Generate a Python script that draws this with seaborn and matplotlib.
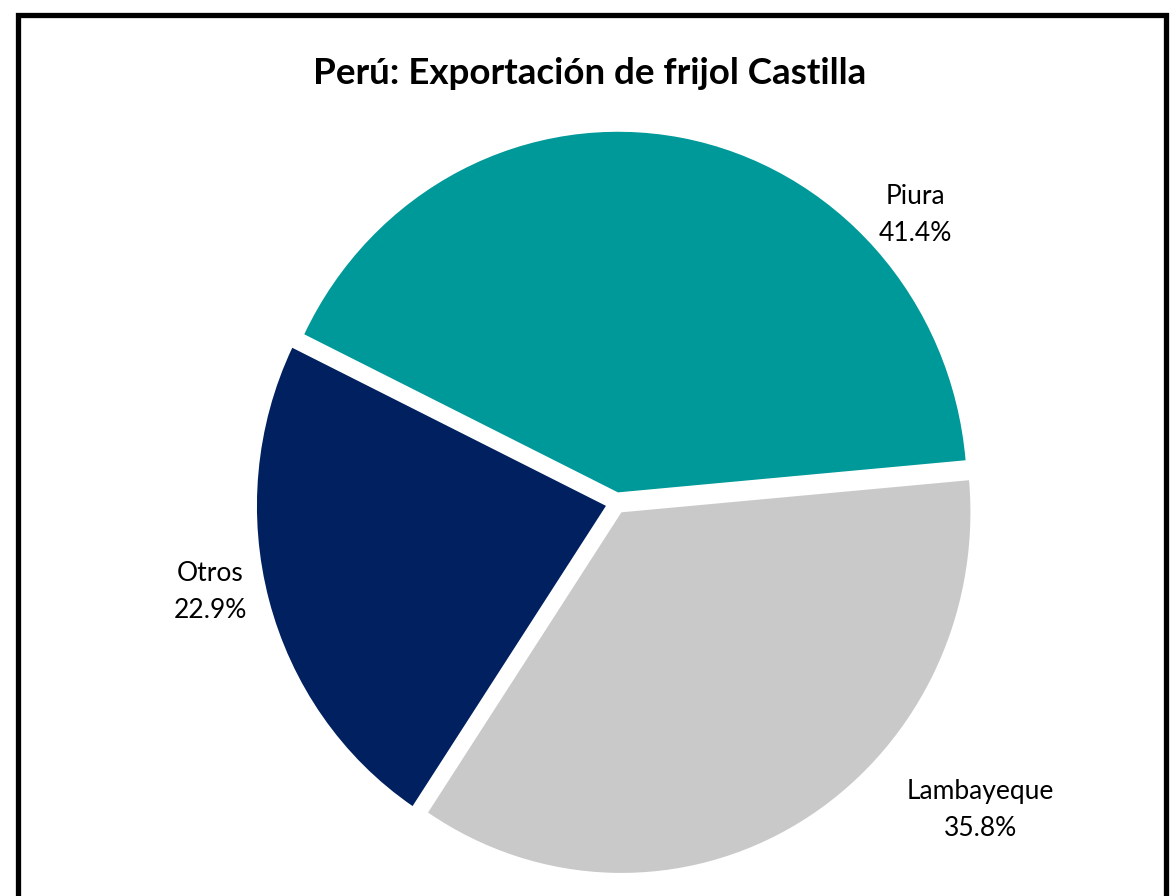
import matplotlib
matplotlib.use("Agg")
import matplotlib.pyplot as plt
from matplotlib.lines import Line2D
import seaborn as sns

# data
regiones = ["Piura", "Lambayeque", "Otros"]
participacion = [41.4, 35.8, 22.9]
colores = ["#009999", "#C9C9C9", "#00205F"]

# where the category labels sit (data units, pie radius = 1)
label_pos = [(0.857, 0.80), (1.043, -0.851), (-1.163, -0.247)]

sns.set_theme(style="white")
plt.rcParams["font.family"] = ["Lato", "DejaVu Sans"]

fig = plt.figure(figsize=(11.73, 8.96), dpi=100)
fig.patch.set_facecolor("white")

# the original pie is slightly taller than wide, so the axes box is not square
ax = fig.add_axes([0.1384, -0.0846, 0.7736, 1.0464])
palette = sns.color_palette(colores)
wedges, _ = ax.pie(
    participacion,
    colors=palette,
    startangle=154,
    counterclock=False,
    explode=[0.03, 0.03, 0.03],
    wedgeprops=dict(linewidth=0),
)
ax.set_xlim(-1.3, 1.3)
ax.set_ylim(-1.3, 1.3)
ax.set_aspect("auto")
ax.axis("off")

for name, val, (x, y) in zip(regiones, participacion, label_pos):
    ax.text(x, y, f"{name}\n{val:.1f}%", ha="center", va="center",
            fontsize=19, color="black", linespacing=1.6)

fig.text(0.503, 0.918, "Perú: Exportación de frijol Castilla", ha="center",
         va="center", fontsize=26.5, fontweight="bold", color="black")

# open black frame (no bottom edge visible)
W, H = 1173, 896
x0, x1 = 17.5 / W, 1165.5 / W
yt = 1 - 15.5 / H
frame = Line2D([x0, x0, x1, x1], [0, yt, yt, 0], transform=fig.transFigure,
               color="black", linewidth=3.8, solid_joinstyle="miter")
fig.add_artist(frame)

fig.savefig("out.png", dpi=100, facecolor="white")
plt.close(fig)
